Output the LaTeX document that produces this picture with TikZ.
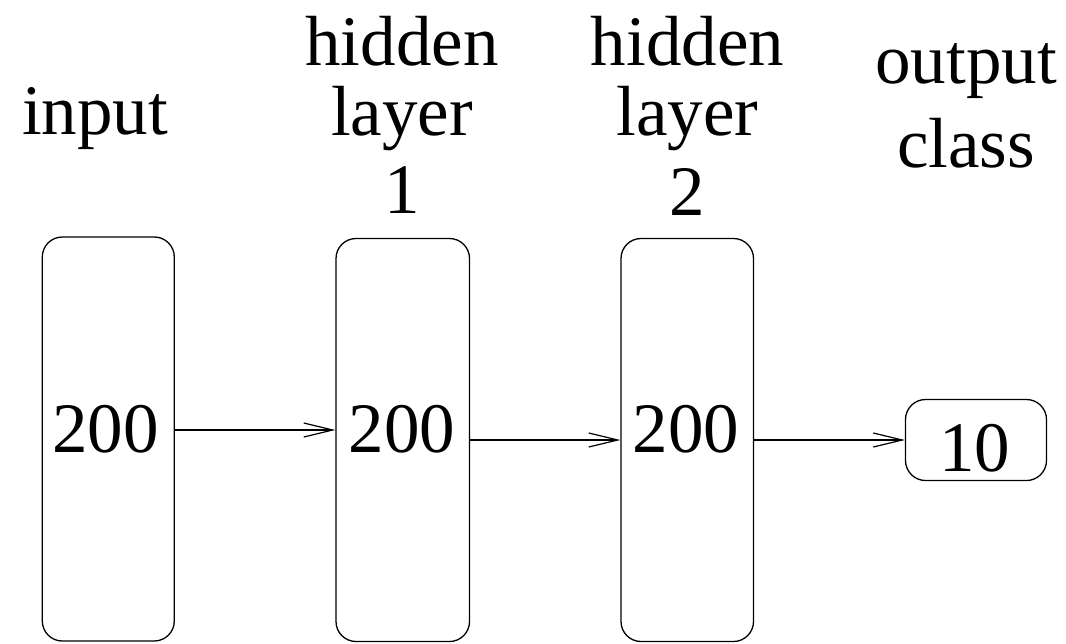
\documentclass[tikz,border=0pt]{standalone}
\usepackage{fontspec}
\setmainfont{Liberation Serif}
\usetikzlibrary{arrows.meta}
\begin{document}
\begin{tikzpicture}[x=1pt,y=-1pt,
  layerbox/.style={draw,line width=1.3pt,rounded corners=20pt,minimum width=#1,inner sep=0pt},
  txt/.style={anchor=base,inner sep=0pt,font=\fontsize{71}{84}\selectfont},
  arr/.style={line width=1.2pt,-{Straight Barb[length=29pt,width=14pt,line width=1.2pt]}}]
\useasboundingbox (0,0) rectangle (1066,643);
\node[layerbox=132pt,minimum height=404pt] (in) at (108.3,439) {};
\node[layerbox=133.5pt,minimum height=403pt] (h1) at (402.75,440) {};
\node[layerbox=132.5pt,minimum height=403pt] (h2) at (687.25,440) {};
\node[layerbox=141pt,minimum height=81pt] (out) at (976,440) {};
\node[txt] (tin) at (105.5,452) {200};
\node[txt] (th1) at (402,452) {200};
\node[txt] (th2) at (686,452) {200};
\node[txt] (tout) at (974.5,471) {10};
\node[txt] (lin) at (95,134) {input};
\node[txt] (la1) at (402,65) {hidden};
\node[txt] (lb1) at (402,135) {layer};
\node[txt] (lc1) at (402,213) {1};
\node[txt] (la2) at (687.5,65) {hidden};
\node[txt] (lb2) at (687.5,135) {layer};
\node[txt] (lc2) at (687.5,215) {2};
\node[txt] (loa) at (966,83) {output};
\node[txt] (lob) at (966,167) {class};
\draw[arr] ([yshift=9pt]in.east) -- ([yshift=9pt]in.east -| h1.west);
\draw[arr] (h1.east) -- (h2.west);
\draw[arr] (h2.east) -- (out.west);
\end{tikzpicture}
\end{document}
